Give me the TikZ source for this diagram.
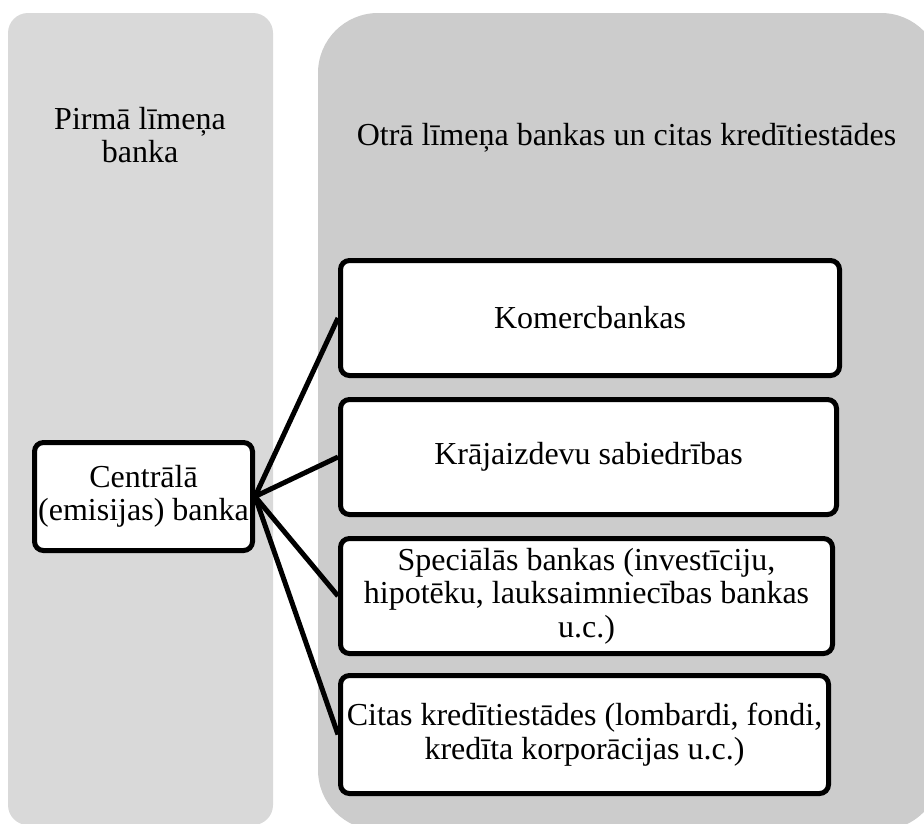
\documentclass[tikz,border=0pt]{standalone}
\usepackage{fontspec}
\setmainfont{Liberation Serif}
\usetikzlibrary{positioning}

\definecolor{levelone}{HTML}{D9D9D9}
\definecolor{leveltwo}{HTML}{CCCCCC}

\begin{document}
\begin{tikzpicture}[x=1pt,y=-1pt,
    every node/.style={font=\fontsize{32}{33.5}\selectfont, align=center},
    bankbox/.style={draw=black, line width=5pt, fill=white, rounded corners=9pt, inner sep=1pt},
    link/.style={line width=5pt}]

    \useasboundingbox (0,0) rectangle (924,823);

    % two levels in the background
    \fill[levelone, rounded corners=20pt] (8,13) rectangle (273,825);
    \fill[leveltwo, rounded corners=60pt] (318,13) rectangle (941,830);

    \node (title_first) at (140,135) {Pirmā līmeņa\\banka};
    \node [anchor=base] (title_second) at (626.5,145) {Otrā līmeņa bankas un citas kredītiestādes};

    \node [bankbox, minimum width=218pt, minimum height=108pt] (central_bank) at (143.5,496.5) {Centrālā\\(emisijas) banka};

    \node [bankbox, minimum width=499pt, minimum height=115pt] (commercial) at (590,318) {Komercbankas};
    \node [bankbox, minimum width=496pt, minimum height=115pt] (credit_union) at (588.5,457) {Krājaizdevu sabiedrības};
    \node [bankbox, minimum width=492pt, minimum height=115pt] (special_banks) at (586.5,596) {Speciālās bankas (investīciju,\\hipotēku, lauksaimniecības bankas\\u.c.)};
    \node [bankbox, minimum width=488pt, minimum height=118pt] (other_inst) at (584.5,734.5) {Citas kredītiestādes (lombardi, fondi,\\kredīta korporācijas u.c.)};

    \draw[link] (central_bank.east) -- (commercial.west);
    \draw[link] (central_bank.east) -- (credit_union.west);
    \draw[link] (central_bank.east) -- (special_banks.west);
    \draw[link] (central_bank.east) -- (other_inst.west);

\end{tikzpicture}
\end{document}
